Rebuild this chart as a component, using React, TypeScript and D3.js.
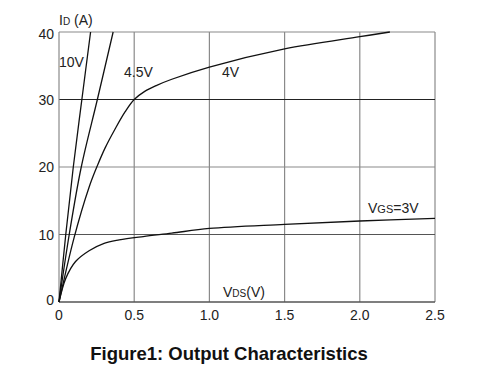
import React from "react";
import * as d3 from "d3";

const xTicks = [0, 0.5, 1.0, 1.5, 2.0, 2.5];
const xTickLabels = ["0", "0.5", "1.0", "1.5", "2.0", "2.5"];
const yTicks = [0, 10, 20, 30, 40];
const yTickLabels = ["0", "10", "20", "30", "40"];

const vds10V = [0, 0.045, 0.095, 0.152, 0.21];
const id10V = [0, 10, 20, 30, 40];

const vds45V = [0, 0.068, 0.148, 0.255, 0.36];
const id45V = [0, 10, 20, 30, 40];

const vds4V = [0, 0.1, 0.2, 0.257, 0.306, 0.372, 0.44, 0.5, 0.57, 0.65, 0.75, 1.0, 1.5, 2.0, 2.2];
const id4V = [0, 9.5, 17, 20.3, 22.8, 25.6, 28.2, 30, 31.2, 32.1, 33, 34.8, 37.5, 39.3, 40];

const vds3V = [0, 0.045, 0.11, 0.2, 0.3, 0.4, 0.56, 0.75, 1.0, 1.5, 2.0, 2.5];
const id3V = [0, 3.5, 6.0, 7.6, 8.7, 9.2, 9.7, 10.2, 10.9, 11.5, 12.0, 12.4];

const series = [
  { vds: vds10V, id: id10V },
  { vds: vds45V, id: id45V },
  { vds: vds4V, id: id4V },
  { vds: vds3V, id: id3V },
];

const FONT = "'Liberation Sans', Arial, sans-serif";

export default function App() {
  const left = 59, right = 435, top = 32, bottom = 302;
  const x = d3.scaleLinear().domain([0, 2.5]).range([left, right]);
  const y = d3.scaleLinear().domain([0, 40]).range([bottom, top]);
  const line = d3
    .line<[number, number]>()
    .x((d) => x(d[0]))
    .y((d) => y(d[1]))
    .curve(d3.curveCatmullRom.alpha(0.5));

  return (
    <svg
      width={500}
      height={375}
      style={{ position: "absolute", left: 0, top: 0, background: "#fff" }}
      fontFamily={FONT}
    >
      <rect x={0} y={0} width={500} height={375} fill="#fff" />
      {/* vertical grid */}
      {xTicks.slice(1).map((t) => (
        <line key={"vx" + t} x1={x(t)} x2={x(t)} y1={y(40)} y2={y(0)} stroke="#8a8a8a" strokeWidth={1.2} />
      ))}
      {/* horizontal grid */}
      {yTicks.slice(1).map((t) => (
        <line
          key={"hy" + t}
          x1={x(0)}
          x2={x(2.5)}
          y1={y(t)}
          y2={y(t)}
          stroke={t === 30 ? "#222" : t === 10 ? "#555" : "#8a8a8a"}
          strokeWidth={1.2}
        />
      ))}
      {/* axes */}
      <line x1={x(0)} x2={x(0)} y1={y(40)} y2={y(0)} stroke="#8a8a8a" strokeWidth={1.2} />
      <line x1={x(0)} x2={x(2.5)} y1={y(0)} y2={y(0)} stroke="#555" strokeWidth={1.5} />

      {/* curves */}
      {series.map((s, i) => (
        <path
          key={i}
          d={line(s.vds.map((v, j) => [v, s.id[j]] as [number, number])) || ""}
          fill="none"
          stroke="#111"
          strokeWidth={1.3}
        />
      ))}

      {/* tick labels */}
      {xTicks.map((t, i) => (
        <text key={"xt" + i} x={x(t)} y={320} fontSize={14} textAnchor="middle" fill="#222">
          {xTickLabels[i]}
        </text>
      ))}
      {yTicks.map((t, i) => (
        <text
          key={"yt" + i}
          x={54}
          y={t === 40 ? 39 : t === 0 ? 305 : y(t) + 5}
          fontSize={14}
          textAnchor="end"
          fill="#222"
        >
          {yTickLabels[i]}
        </text>
      ))}

      {/* axis labels */}
      <text x={59} y={25} fontSize={14} fill="#222">
        I<tspan fontSize={10}>D</tspan> (A)
      </text>
      <text x={223} y={297} fontSize={14} fill="#222">
        V<tspan fontSize={10}>DS</tspan>(V)
      </text>

      {/* curve labels */}
      <text x={59} y={67} fontSize={14} fill="#222">10V</text>
      <text x={124} y={77} fontSize={14} fill="#222">4.5V</text>
      <text x={222} y={77} fontSize={14} fill="#222">4V</text>
      <text x={368} y={213} fontSize={14} fill="#222">
        V<tspan fontSize={11}>GS</tspan>=3V
      </text>

      {/* title */}
      <text x={229} y={360} fontSize={18.5} fontWeight="bold" textAnchor="middle" fill="#111">
        Figure1: Output Characteristics
      </text>
    </svg>
  );
}
